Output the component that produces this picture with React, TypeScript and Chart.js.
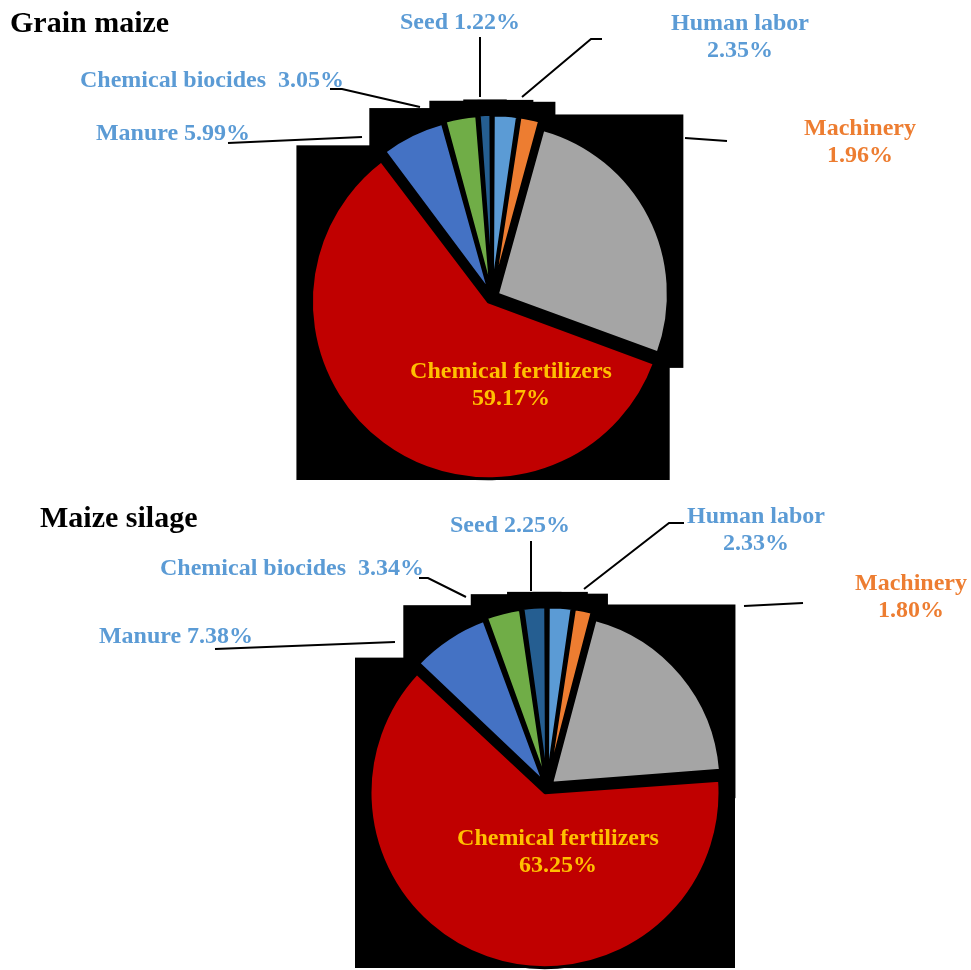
import React, { useEffect, useRef } from 'react';
import { Chart, registerables } from 'chart.js';

Chart.register(...registerables);

// ---------- data ----------
const categories = [
  'Human labor',
  'Machinery',
  'Unlabeled',
  'Chemical fertilizers',
  'Manure',
  'Chemical biocides',
  'Seed',
];
const grainMaizeValues = [2.35, 1.96, 26.26, 59.17, 5.99, 3.05, 1.22];
const maizeSilageValues = [2.33, 1.8, 19.65, 63.25, 7.38, 3.34, 2.25];
const chartTitles = ['Grain maize', 'Maize silage'];

// ---------- styles ----------
const sliceColors = ['#5B9BD5', '#ED7D31', '#A5A5A5', '#C00000', '#4472C4', '#70AD47', '#255E91'];
const labelColors = ['#5B9BD5', '#ED7D31', '', '#FFC000', '#5B9BD5', '#5B9BD5', '#5B9BD5'];
const FONT = '"Liberation Serif", "Times New Roman", serif';

type LabelLayout = {
  format: 'split' | 'single' | 'double' | 'none';
  dx: number;
  dy: number;
  leader?: [number, number][];
};

// label placements, relative to the pie centre (pixels)
const grainLayout: LabelLayout[] = [
  { format: 'split', dx: 248, dy: -267, leader: [[110, -258], [99, -258], [30, -200]] },
  { format: 'split', dx: 368, dy: -162, leader: [[193, -159], [235, -156]] },
  { format: 'none', dx: 0, dy: 0 },
  { format: 'split', dx: 19, dy: 81 },
  { format: 'single', dx: -319, dy: -157, leader: [[-264, -154], [-130, -160]] },
  { format: 'double', dx: -280, dy: -210, leader: [[-162, -208], [-150, -208], [-72, -190]] },
  { format: 'single', dx: -32, dy: -268, leader: [[-12, -260], [-12, -200]] },
];
const silageLayout: LabelLayout[] = [
  { format: 'split', dx: 209, dy: -264, leader: [[137, -264], [122, -264], [37, -198]] },
  { format: 'split', dx: 364, dy: -197, leader: [[197, -181], [256, -184]] },
  { format: 'none', dx: 0, dy: 0 },
  { format: 'split', dx: 11, dy: 58 },
  { format: 'single', dx: -371, dy: -144, leader: [[-332, -138], [-152, -145]] },
  { format: 'double', dx: -255, dy: -212, leader: [[-128, -209], [-119, -209], [-81, -190]] },
  { format: 'single', dx: -37, dy: -255, leader: [[-16, -246], [-16, -196]] },
];

type PieCfg = {
  values: number[];
  title: string;
  titleX: number;
  titleY: number;
  layout: LabelLayout[];
  width: number;
  height: number;
  padding: { left: number; right: number; top: number; bottom: number };
  radius: number;
};

function makeDecorPlugin(cfg: PieCfg) {
  return {
    id: 'pieDecor',
    beforeDatasetsDraw(chart: any) {
      const meta = chart.getDatasetMeta(0);
      const ctx: CanvasRenderingContext2D = chart.ctx;
      const pad = 15;
      ctx.save();
      ctx.fillStyle = '#000';
      meta.data.forEach((arc: any) => {
        const p = arc.getProps(['x', 'y', 'startAngle', 'endAngle', 'outerRadius', 'circumference'], true);
        const off = (arc.options.offset || 0) / 4;
        const fix = 1 - Math.sin(Math.min(Math.PI, p.circumference || 0));
        const r = p.outerRadius + off * fix;
        const mid = (p.startAngle + p.endAngle) / 2;
        const cx = p.x + Math.cos(mid) * off;
        const cy = p.y + Math.sin(mid) * off;
        const pts: [number, number][] = [[cx, cy]];
        pts.push([cx + Math.cos(p.startAngle) * r, cy + Math.sin(p.startAngle) * r]);
        pts.push([cx + Math.cos(p.endAngle) * r, cy + Math.sin(p.endAngle) * r]);
        const q = Math.PI / 2;
        for (let k = Math.ceil(p.startAngle / q); k * q <= p.endAngle; k++) {
          pts.push([cx + Math.cos(k * q) * r, cy + Math.sin(k * q) * r]);
        }
        const xs = pts.map((a) => a[0]);
        const ys = pts.map((a) => a[1]);
        const minX = Math.min(...xs) - pad;
        const maxX = Math.max(...xs) + pad;
        const minY = Math.min(...ys) - pad;
        const pieBottom = p.y + p.outerRadius + 2 * off;
        const maxY = Math.min(Math.max(...ys) + pad, pieBottom);
        ctx.fillRect(minX, minY, maxX - minX, maxY - minY);
      });
      ctx.restore();
    },
    afterDatasetsDraw(chart: any) {
      const meta = chart.getDatasetMeta(0);
      const ctx: CanvasRenderingContext2D = chart.ctx;
      const first = meta.data[0];
      const cx = first.x;
      const cy = first.y;
      ctx.save();
      // leader lines
      ctx.strokeStyle = '#000';
      ctx.lineWidth = 2;
      cfg.layout.forEach((l) => {
        if (!l.leader) return;
        ctx.beginPath();
        l.leader.forEach(([x, y], j) => {
          if (j === 0) ctx.moveTo(cx + x, cy + y);
          else ctx.lineTo(cx + x, cy + y);
        });
        ctx.stroke();
      });
      // labels
      ctx.font = `bold 24px ${FONT}`;
      ctx.textAlign = 'center';
      ctx.textBaseline = 'alphabetic';
      cfg.layout.forEach((l, i) => {
        if (l.format === 'none') return;
        const name = categories[i];
        const pct = cfg.values[i].toFixed(2) + '%';
        let lines: string[];
        if (l.format === 'split') lines = [name, pct];
        else if (l.format === 'double') lines = [name + '  ' + pct];
        else lines = [name + ' ' + pct];
        ctx.fillStyle = labelColors[i];
        lines.forEach((t, j) => ctx.fillText(t, cx + l.dx, cy + l.dy + j * 27));
      });
      // title
      ctx.font = `bold 30px ${FONT}`;
      ctx.textAlign = 'left';
      ctx.fillStyle = '#000';
      ctx.fillText(cfg.title, cfg.titleX, cfg.titleY);
      ctx.restore();
    },
  };
}

function PieChart({ cfg, top }: { cfg: PieCfg; top: number }) {
  const ref = useRef<HTMLCanvasElement | null>(null);
  useEffect(() => {
    if (!ref.current) return;
    const chart = new Chart(ref.current, {
      type: 'pie',
      data: {
        labels: categories,
        datasets: [
          {
            data: cfg.values,
            backgroundColor: sliceColors,
            borderColor: '#000000',
            borderWidth: 3,
            offset: 24,
            hoverOffset: 24,
            radius: cfg.radius,
          } as any,
        ],
      },
      options: {
        responsive: false,
        animation: false,
        events: [],
        layout: { padding: cfg.padding },
        plugins: {
          legend: { display: false },
          tooltip: { enabled: false },
          title: { display: false },
        },
      },
      plugins: [makeDecorPlugin(cfg)],
    });
    return () => chart.destroy();
  }, [cfg]);
  return (
    <canvas
      ref={ref}
      width={cfg.width}
      height={cfg.height}
      style={{ position: 'absolute', left: 0, top, display: 'block' }}
    />
  );
}

const grainCfg: PieCfg = {
  values: grainMaizeValues,
  title: chartTitles[0],
  titleX: 10,
  titleY: 32,
  layout: grainLayout,
  width: 971,
  height: 490,
  padding: { left: 13, right: 0, top: 104, bottom: 0 },
  radius: 171,
};

const silageCfg: PieCfg = {
  values: maizeSilageValues,
  title: chartTitles[1],
  titleX: 40,
  titleY: 37,
  layout: silageLayout,
  width: 971,
  height: 480,
  padding: { left: 123, right: 0, top: 114, bottom: 0 },
  radius: 169,
};

export default function App() {
  return (
    <div
      style={{
        position: 'fixed',
        left: 0,
        top: 0,
        width: 971,
        height: 970,
        background: '#ffffff',
        overflow: 'hidden',
      }}
    >
      <PieChart cfg={grainCfg} top={0} />
      <PieChart cfg={silageCfg} top={490} />
    </div>
  );
}
